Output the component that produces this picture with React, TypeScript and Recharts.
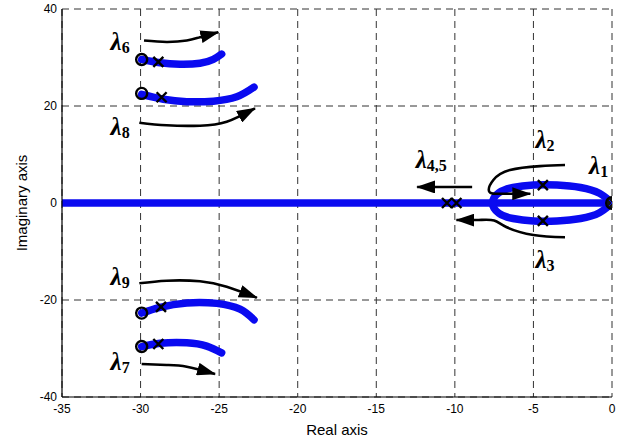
import React from "react";
import { ComposedChart, Line, Scatter, XAxis, YAxis, CartesianGrid, Label } from "recharts";

const xTicks = [-35, -30, -25, -20, -15, -10, -5, 0];
const yTicks = [-40, -20, 0, 20, 40];

// blue root-locus branches
const realAxisBranch = [
  { x: -35, y: 0 },
  { x: 0, y: 0 },
];
const loopBranch = [
  { x: 0, y: 0 }, { x: -0.8, y: 2.0 }, { x: -2, y: 3.2 }, { x: -3.5, y: 3.7 },
  { x: -5, y: 3.7 }, { x: -6.3, y: 3.2 }, { x: -7.2, y: 2.1 }, { x: -7.6, y: 0 },
  { x: -7.2, y: -2.1 }, { x: -6.3, y: -3.2 }, { x: -5, y: -3.7 }, { x: -3.5, y: -3.7 },
  { x: -2, y: -3.2 }, { x: -0.8, y: -2.0 }, { x: 0, y: 0 },
];
const branch6 = [
  { x: -29.93, y: 29.6 }, { x: -28.76, y: 28.9 }, { x: -27.49, y: 28.6 },
  { x: -26.22, y: 28.8 }, { x: -25.37, y: 29.6 }, { x: -24.84, y: 30.7 },
];
const branch8 = [
  { x: -29.93, y: 22.4 }, { x: -28.55, y: 21.4 }, { x: -27.06, y: 20.9 },
  { x: -25.37, y: 21.0 }, { x: -23.88, y: 21.9 }, { x: -22.78, y: 23.9 },
];
const branch9 = [
  { x: -29.93, y: -22.7 }, { x: -28.76, y: -21.5 }, { x: -27.06, y: -20.6 },
  { x: -25.15, y: -20.7 }, { x: -23.67, y: -21.9 }, { x: -22.78, y: -24.1 },
];
const branch7 = [
  { x: -29.93, y: -29.6 }, { x: -28.76, y: -28.9 }, { x: -27.06, y: -28.8 },
  { x: -25.79, y: -29.5 }, { x: -24.84, y: -30.9 },
];

// black direction arrows
const arrow6 = [
  { x: -29.78, y: 33.5 }, { x: -28.34, y: 33.2 }, { x: -27.06, y: 33.5 },
  { x: -26.22, y: 34.2 }, { x: -25.05, y: 35.2 },
];
const arrow8 = [
  { x: -30.08, y: 16.56 }, { x: -28.34, y: 16.02 }, { x: -26.22, y: 15.94 },
  { x: -24.52, y: 16.76 }, { x: -22.72, y: 19.53 },
];
const arrow9 = [
  { x: -30.08, y: -16.56 }, { x: -28.34, y: -16.02 }, { x: -26.22, y: -16.14 },
  { x: -24.52, y: -17.26 }, { x: -22.6, y: -19.53 },
];
const arrow7 = [
  { x: -29.93, y: -33.2 }, { x: -28.34, y: -33.4 }, { x: -27.06, y: -33.75 },
  { x: -25.26, y: -35.26 },
];
const arrow45 = [
  { x: -8.9, y: 3.3 },
  { x: -12.4, y: 3.3 },
];
const arrow2 = [
  { x: -2.99, y: 7.84 }, { x: -4.58, y: 7.6 }, { x: -6.49, y: 6.8 }, { x: -7.55, y: 4.74 },
  { x: -7.81, y: 2.33 }, { x: -7.0, y: 1.9 }, { x: -5.2, y: 1.9 },
];
const arrow3 = [
  { x: -2.99, y: -7.07 }, { x: -5.0, y: -6.6 }, { x: -6.7, y: -5.0 }, { x: -7.5, y: -3.6 },
  { x: -8.5, y: -3.5 }, { x: -9.9, y: -3.5 },
];

const zeros = [
  { x: -29.93, y: 29.6 }, { x: -29.93, y: 22.6 }, { x: -29.93, y: -22.7 }, { x: -29.93, y: -29.6 },
];
const poles = [
  { x: -28.87, y: 29.1 }, { x: -28.66, y: 21.8 }, { x: -28.7, y: -21.4 }, { x: -28.87, y: -29.07 },
  { x: -4.4, y: 3.7 }, { x: -4.4, y: -3.7 }, { x: -10.5, y: 0 }, { x: -9.9, y: 0 },
];
const poleZero = [{ x: 0, y: 0 }];

// label anchor = baseline centre
const labels = [
  { x: -31.3, y: 31.5, sub: "6" },
  { x: -31.3, y: 14.0, sub: "8" },
  { x: -31.3, y: -16.9, sub: "9" },
  { x: -31.3, y: -34.4, sub: "7" },
  { x: -11.5, y: 7.2, sub: "4,5" },
  { x: -4.26, y: 11.3, sub: "2" },
  { x: -0.85, y: 6.0, sub: "1" },
  { x: -4.26, y: -13.4, sub: "3" },
];

const BLUE = "#0a0af0";
const blueBranches = [realAxisBranch, loopBranch, branch6, branch8, branch9, branch7];
const arrows = [arrow6, arrow8, arrow9, arrow7, arrow45, arrow2, arrow3];

const Circle = (p: any) => (
  <circle cx={p.cx} cy={p.cy} r={5.5} fill="none" stroke="#000" strokeWidth={2.4} />
);
const Cross = (p: any) => (
  <path
    d={`M${p.cx - 5},${p.cy - 5}L${p.cx + 5},${p.cy + 5}M${p.cx - 5},${p.cy + 5}L${p.cx + 5},${p.cy - 5}`}
    stroke="#000"
    strokeWidth={2.4}
  />
);
const CircleCross = (p: any) => (
  <g>
    <circle cx={p.cx} cy={p.cy} r={6} fill="#111" stroke="#000" strokeWidth={2} />
    <path
      d={`M${p.cx - 3},${p.cy - 3}L${p.cx + 3},${p.cy + 3}M${p.cx - 3},${p.cy + 3}L${p.cx + 3},${p.cy - 3}`}
      stroke={BLUE}
      strokeWidth={1}
    />
  </g>
);
const Lambda = (p: any) => (
  <text
    x={p.cx}
    y={p.cy}
    textAnchor="middle"
    fontFamily="'Liberation Serif', 'Times New Roman', serif"
    fontWeight="bold"
    fill="#000"
  >
    <tspan fontSize={25} fontStyle="italic">λ</tspan>
    <tspan fontSize={16} dy={3}>{p.payload.sub}</tspan>
  </text>
);

export default function App() {
  return (
    <div style={{ position: "absolute", left: 0, top: 0, width: 627, height: 442, background: "#fff" }}>
      <ComposedChart width={627} height={442} margin={{ top: 9, right: 15, bottom: 0, left: 0 }}>
        <defs>
          <marker
            id="arrowHead"
            markerUnits="userSpaceOnUse"
            markerWidth={19}
            markerHeight={13}
            viewBox="0 0 19 13"
            refX={18}
            refY={6.5}
            orient="auto"
          >
            <path d="M0,0L19,6.5L0,13z" fill="#000" />
          </marker>
        </defs>
        <CartesianGrid stroke="#333" strokeDasharray="7 5" horizontalValues={yTicks} verticalValues={xTicks} />
        <XAxis
          type="number"
          dataKey="x"
          domain={[-35, 0]}
          ticks={xTicks}
          allowDataOverflow
          height={45}
          tickLine={false}
          tickSize={5}
          tickMargin={2}
          axisLine={{ stroke: "#000", strokeWidth: 1.2 }}
          tick={{ fill: "#000", fontSize: 12, fontFamily: "'Liberation Sans', Arial, sans-serif" }}
        >
          <Label
            value="Real axis"
            position="insideBottom"
            offset={7}
            style={{ fill: "#000", fontSize: 15, fontFamily: "'Liberation Sans', Arial, sans-serif" }}
          />
        </XAxis>
        <YAxis
          type="number"
          dataKey="y"
          domain={[-40, 40]}
          ticks={yTicks}
          allowDataOverflow
          width={62}
          tickLine={false}
          tickSize={4}
          tickMargin={1}
          axisLine={{ stroke: "#000", strokeWidth: 1.2 }}
          tick={{ fill: "#000", fontSize: 12, fontFamily: "'Liberation Sans', Arial, sans-serif" }}
        >
          <Label
            value="Imaginary axis"
            angle={-90}
            position="insideLeft"
            offset={22}
            style={{ fill: "#000", fontSize: 15, textAnchor: "middle", fontFamily: "'Liberation Sans', Arial, sans-serif" }}
          />
        </YAxis>
        {blueBranches.map((d, i) => (
          <Line
            key={"b" + i}
            data={d}
            dataKey="y"
            type="natural"
            stroke={BLUE}
            strokeWidth={7.5}
            strokeLinecap="round"
            dot={false}
            activeDot={false}
            isAnimationActive={false}
          />
        ))}
        {arrows.map((d, i) => (
          <Line
            key={"a" + i}
            data={d}
            dataKey="y"
            type="natural"
            stroke="#000"
            strokeWidth={2.6}
            fill="none"
            markerEnd="url(#arrowHead)"
            dot={false}
            activeDot={false}
            isAnimationActive={false}
          />
        ))}
        <Scatter data={zeros} shape={Circle} isAnimationActive={false} />
        <Scatter data={poles} shape={Cross} isAnimationActive={false} />
        <Scatter data={poleZero} shape={CircleCross} isAnimationActive={false} />
        <Scatter data={labels} shape={Lambda} isAnimationActive={false} />
      </ComposedChart>
    </div>
  );
}
